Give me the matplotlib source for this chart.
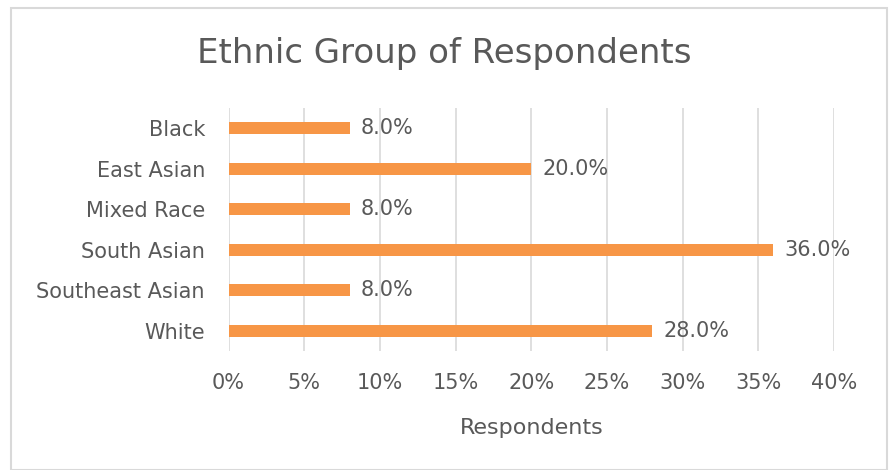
import matplotlib.pyplot as plt
from matplotlib.patches import Rectangle
from matplotlib.ticker import PercentFormatter

categories = ['Black', 'East Asian', 'Mixed Race', 'South Asian', 'Southeast Asian', 'White']
shares = [8.0, 20.0, 8.0, 36.0, 8.0, 28.0]
x_ticks = [0, 5, 10, 15, 20, 25, 30, 35, 40]

text_grey = '#595959'
plt.rcParams['font.family'] = ['DejaVu Sans']

fig = plt.figure(figsize=(8.89, 4.70), dpi=100)
ax = fig.add_axes([228.5 / 889, 1 - 351 / 470, (834 - 228.5) / 889, (351 - 108) / 470])

# chart border
fig.patches.append(Rectangle((11 / 889, 0), 876 / 889, 1 - 8 / 470, transform=fig.transFigure,
                             fill=False, edgecolor='#d9d9d9', linewidth=1.5))

y = list(range(len(categories)))
ax.barh(y, shares, height=0.3, color='#f79646', zorder=3)
for yi, v in zip(y, shares):
    ax.text(v + 0.75, yi, f'{v:.1f}%', va='center', ha='left', fontsize=15, color=text_grey)

ax.set_yticks(y)
ax.set_yticklabels(categories)
ax.set_ylim(len(categories) - 0.5, -0.5)
ax.set_xlim(0, 40)
ax.set_xticks(x_ticks)
ax.xaxis.set_major_formatter(PercentFormatter(decimals=0))
ax.grid(axis='x', color='#d9d9d9', linewidth=1.2, zorder=0)
ax.tick_params(length=0, labelsize=15, colors=text_grey)
ax.tick_params(axis='x', pad=16)
ax.tick_params(axis='y', pad=17)
for s in ax.spines.values():
    s.set_visible(False)

ax.set_xlabel('Respondents', fontsize=16, color=text_grey, labelpad=18)
fig.text(0.5, 1 - 53 / 470, 'Ethnic Group of Respondents', ha='center', va='center',
         fontsize=24.5, color=text_grey)

fig.savefig('out.png', dpi=100)
